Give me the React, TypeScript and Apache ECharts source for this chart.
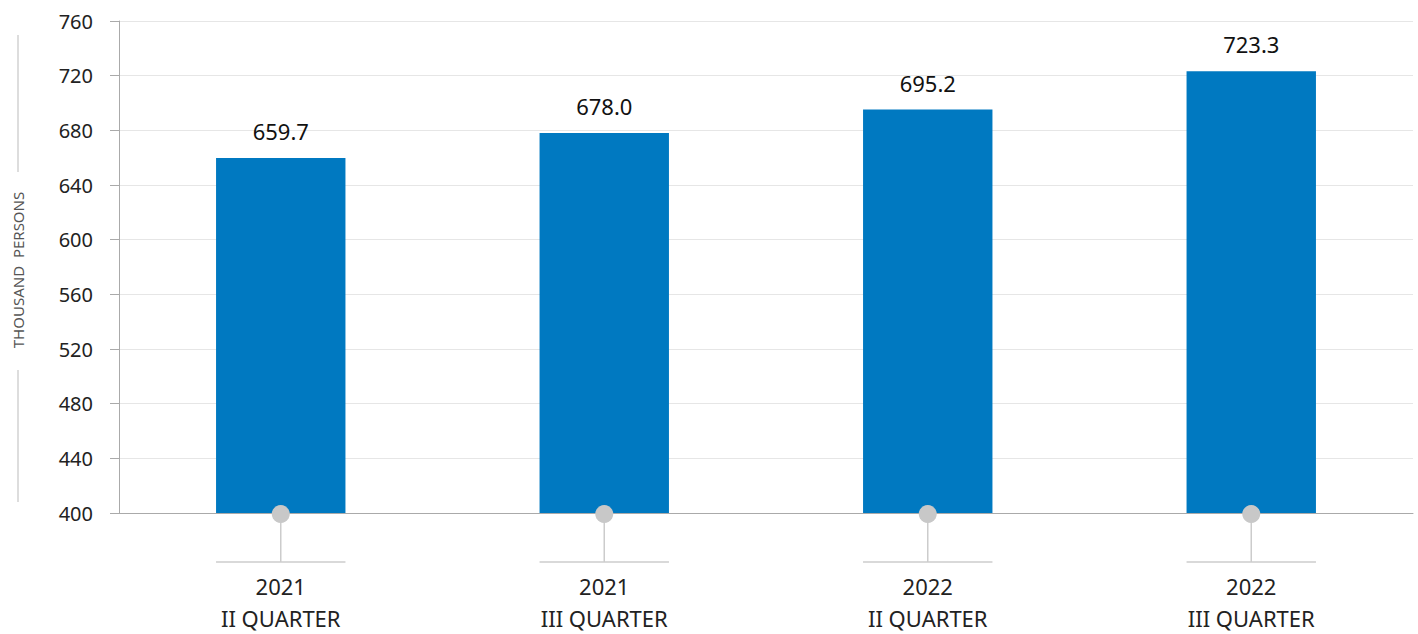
import React, { useEffect, useRef } from "react";
import * as echarts from "echarts";

const categories = ["2021\nII QUARTER", "2021\nIII QUARTER", "2022\nII QUARTER", "2022\nIII QUARTER"];
const values = [659.7, 678.0, 695.2, 723.3];
const yMin = 400;
const yMax = 760;
const yInterval = 40;
const axisTitle = "THOUSAND  PERSONS";

export default function App() {
  const ref = useRef<HTMLDivElement>(null);
  useEffect(() => {
    document.body.style.margin = "0";
    const chart = echarts.init(ref.current!, null, { renderer: "svg" });
    const font = "'Noto Sans', 'Open Sans', sans-serif";
    chart.setOption({
      animation: false,
      textStyle: { fontFamily: font },
      grid: { left: 119, right: 5, top: 21, bottom: 118, containLabel: false },
      xAxis: {
        type: "category",
        data: categories,
        axisLine: { show: true, lineStyle: { color: "#aaaaaa", width: 1 } },
        axisTick: { show: false },
        axisLabel: {
          color: "#222222",
          fontSize: 22,
          lineHeight: 32,
          margin: 57,
          fontFamily: font,
        },
      },
      yAxis: {
        type: "value",
        min: yMin,
        max: yMax,
        interval: yInterval,
        axisLine: { show: true, lineStyle: { color: "#aaaaaa", width: 1 } },
        axisTick: { show: true, length: 9, lineStyle: { color: "#aaaaaa" } },
        splitLine: { show: true, lineStyle: { color: "#e6e6e6", width: 1 } },
        axisLabel: { color: "#222222", fontSize: 20, margin: 26, fontFamily: font },
      },
      graphic: [
        {
          type: "text",
          x: 18,
          y: 270,
          rotation: Math.PI / 2,
          style: {
            text: axisTitle,
            fill: "#555555",
            fontSize: 15,
            fontFamily: font,
            align: "center",
            verticalAlign: "middle",
          },
        },
        { type: "line", shape: { x1: 18, y1: 35, x2: 18, y2: 172 }, style: { stroke: "#bbbbbb", lineWidth: 1 } },
        { type: "line", shape: { x1: 18, y1: 370, x2: 18, y2: 502 }, style: { stroke: "#bbbbbb", lineWidth: 1 } },
      ],
      series: [
        {
          type: "bar",
          data: values,
          barWidth: "40%",
          itemStyle: { color: "#0079c1" },
          label: {
            show: true,
            position: "top",
            distance: 16,
            color: "#111111",
            fontSize: 22,
            fontFamily: font,
            formatter: (p: any) => Number(p.value).toFixed(1),
          },
          z: 2,
        },
        {
          type: "custom",
          clip: false,
          z: 5,
          data: values.map((_, i) => [i, yMin]),
          renderItem: (params: any, api: any) => {
            const p = api.coord([api.value(0), yMin]);
            const band = api.size([1, 0])[0];
            const half = band * 0.2;
            const ly = p[1] + 49;
            return {
              type: "group",
              children: [
                { type: "line", shape: { x1: p[0], y1: p[1], x2: p[0], y2: ly }, style: { stroke: "#cccccc", lineWidth: 1.5 } },
                { type: "line", shape: { x1: p[0] - half, y1: ly, x2: p[0] + half, y2: ly }, style: { stroke: "#cccccc", lineWidth: 1.5 } },
                { type: "circle", shape: { cx: p[0], cy: p[1] + 1, r: 9 }, style: { fill: "#c8c8c8" } },
              ],
            };
          },
        },
      ],
    });
    return () => chart.dispose();
  }, []);
  return <div ref={ref} style={{ width: 1418, height: 634 }} />;
}
